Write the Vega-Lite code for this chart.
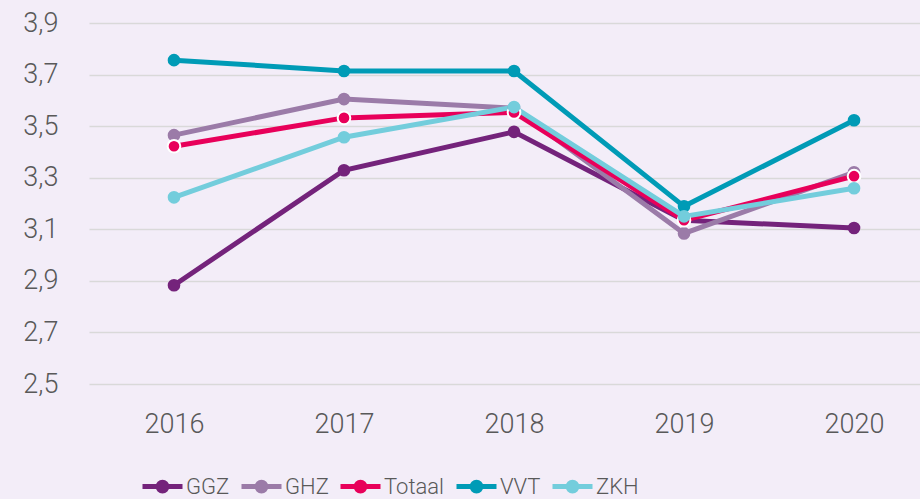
{
  "$schema": "https://vega.github.io/schema/vega-lite/v6.json",
  "width": 831,
  "height": 361,
  "autosize": {"type": "none"},
  "padding": {"left": 89, "top": 23, "right": 0, "bottom": 115},
  "background": "#F3EDF8",
  "config": {
    "view": {"stroke": null},
    "font": "Roboto"
  },
  "data": {
    "values": [
      {"jaar": "2016", "sector": "GGZ", "score": 2.883},
      {"jaar": "2017", "sector": "GGZ", "score": 3.329},
      {"jaar": "2018", "sector": "GGZ", "score": 3.478},
      {"jaar": "2019", "sector": "GGZ", "score": 3.135},
      {"jaar": "2020", "sector": "GGZ", "score": 3.105},
      {"jaar": "2016", "sector": "GHZ", "score": 3.465},
      {"jaar": "2017", "sector": "GHZ", "score": 3.605},
      {"jaar": "2018", "sector": "GHZ", "score": 3.57},
      {"jaar": "2019", "sector": "GHZ", "score": 3.084},
      {"jaar": "2020", "sector": "GHZ", "score": 3.321},
      {"jaar": "2016", "sector": "Totaal", "score": 3.422},
      {"jaar": "2017", "sector": "Totaal", "score": 3.532},
      {"jaar": "2018", "sector": "Totaal", "score": 3.553},
      {"jaar": "2019", "sector": "Totaal", "score": 3.135},
      {"jaar": "2020", "sector": "Totaal", "score": 3.306},
      {"jaar": "2016", "sector": "VVT", "score": 3.756},
      {"jaar": "2017", "sector": "VVT", "score": 3.714},
      {"jaar": "2018", "sector": "VVT", "score": 3.714},
      {"jaar": "2019", "sector": "VVT", "score": 3.189},
      {"jaar": "2020", "sector": "VVT", "score": 3.523},
      {"jaar": "2016", "sector": "ZKH", "score": 3.224},
      {"jaar": "2017", "sector": "ZKH", "score": 3.457},
      {"jaar": "2018", "sector": "ZKH", "score": 3.574},
      {"jaar": "2019", "sector": "ZKH", "score": 3.15},
      {"jaar": "2020", "sector": "ZKH", "score": 3.259}
    ]
  },
  "encoding": {
    "x": {
      "field": "jaar",
      "type": "ordinal",
      "scale": {"type": "point", "padding": 0.444, "align": 0.563},
      "axis": {
        "title": null,
        "domain": false,
        "ticks": false,
        "grid": false,
        "labelAngle": 0,
        "labelFont": "Roboto",
        "labelFontWeight": 300,
        "labelFontSize": 27,
        "labelColor": "#595959",
        "labelPadding": 27
      }
    },
    "y": {
      "field": "score",
      "type": "quantitative",
      "scale": {"domain": [2.5, 3.9], "nice": false, "zero": false},
      "axis": {
        "title": null,
        "domain": false,
        "ticks": false,
        "values": [2.5, 2.7, 2.9, 3.1, 3.3, 3.5, 3.7, 3.9],
        "labelExpr": "replace(format(datum.value, '.1f'), '.', ',')",
        "labelFont": "Roboto",
        "labelFontWeight": 300,
        "labelFontSize": 27,
        "labelColor": "#595959",
        "labelPadding": 31,
        "gridColor": "#D9D9D9",
        "gridWidth": 1.5
      }
    },
    "color": {
      "field": "sector",
      "type": "nominal",
      "scale": {
        "domain": ["GGZ", "GHZ", "Totaal", "VVT", "ZKH"],
        "range": ["#74237B", "#9B7BA8", "#E8005A", "#009BB6", "#73CDDC"]
      }
    }
  },
  "layer": [
    {
      "mark": {"type": "line", "strokeWidth": 5},
      "encoding": {
        "color": {
          "field": "sector",
          "type": "nominal",
          "legend": {
            "orient": "none",
            "legendX": 51,
            "legendY": 441,
            "direction": "horizontal",
            "title": null,
            "symbolType": "M-1,0L1,0M-0.22,0A0.22,0.22,0,1,0,0.22,0A0.22,0.22,0,1,0,-0.22,0Z",
            "symbolSize": 1600,
            "symbolStrokeWidth": 5,
            "labelFont": "Roboto",
            "labelFontWeight": 300,
            "labelFontSize": 22,
            "labelColor": "#595959",
            "labelOffset": 1,
            "columnPadding": 1,
            "encode": {
              "symbols": {"update": {"fill": {"scale": "color", "field": "value"}}}
            }
          }
        }
      }
    },
    {
      "mark": {"type": "point", "filled": true, "size": 160, "opacity": 1, "stroke": "white"},
      "encoding": {
        "color": {"field": "sector", "type": "nominal", "legend": null},
        "strokeWidth": {
          "condition": {"test": "datum.sector === 'Totaal'", "value": 2},
          "value": 0
        }
      }
    }
  ]
}
